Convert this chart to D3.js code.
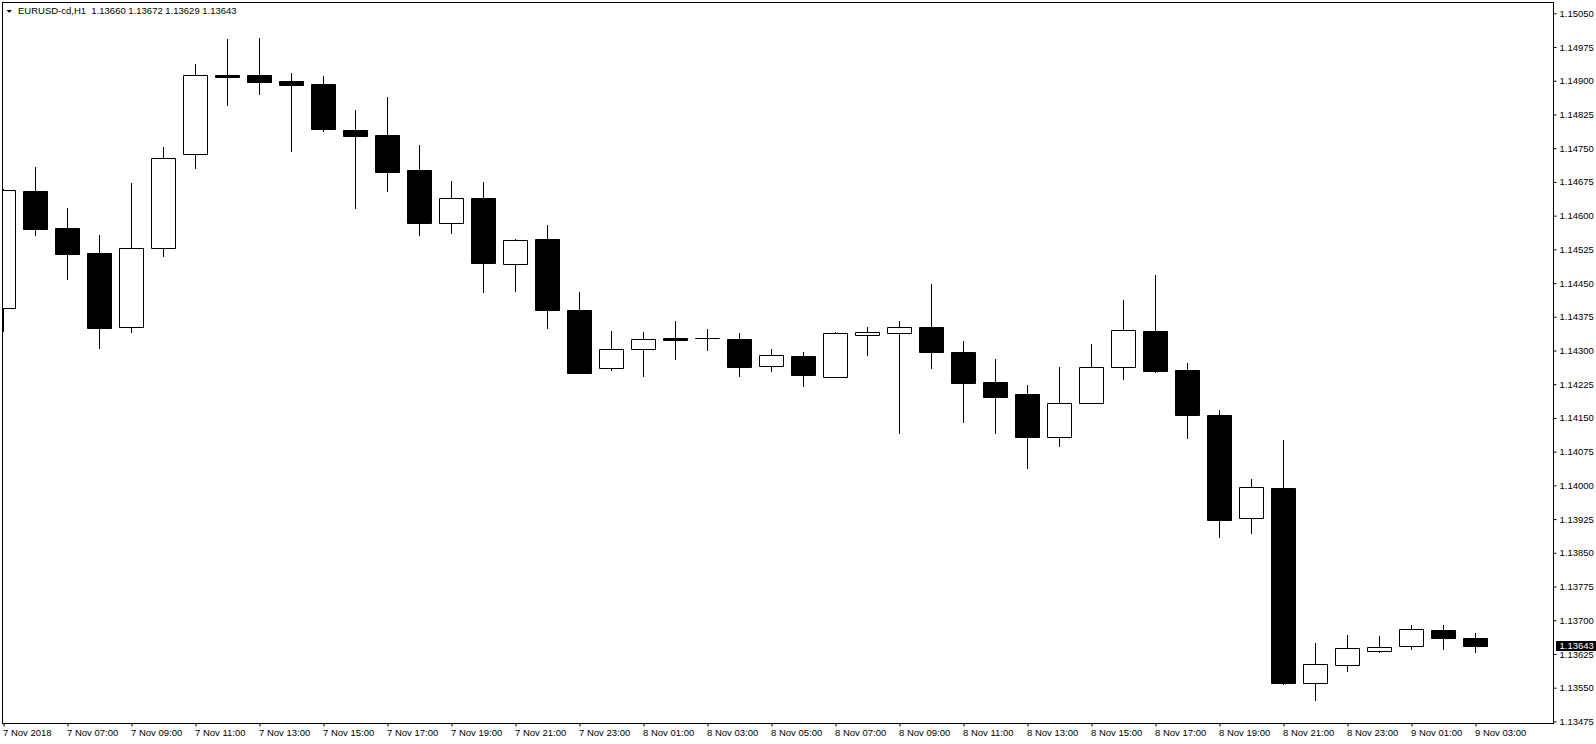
<!DOCTYPE html>
<html><head><meta charset="utf-8">
<script src="https://cdn.jsdelivr.net/npm/d3@7"></script>
<style>html,body{margin:0;padding:0;background:#fff;overflow:hidden}svg{display:block}</style>
</head><body>
<svg id="chart" width="1596" height="744"></svg>
<script>
// ---------- data ----------
const symbol = "EURUSD-cd,H1";
const times = [
  "7 Nov 05:00","7 Nov 06:00","7 Nov 07:00","7 Nov 08:00","7 Nov 09:00","7 Nov 10:00","7 Nov 11:00","7 Nov 12:00",
  "7 Nov 13:00","7 Nov 14:00","7 Nov 15:00","7 Nov 16:00","7 Nov 17:00","7 Nov 18:00","7 Nov 19:00","7 Nov 20:00",
  "7 Nov 21:00","7 Nov 22:00","7 Nov 23:00","8 Nov 00:00","8 Nov 01:00","8 Nov 02:00","8 Nov 03:00","8 Nov 04:00",
  "8 Nov 05:00","8 Nov 06:00","8 Nov 07:00","8 Nov 08:00","8 Nov 09:00","8 Nov 10:00","8 Nov 11:00","8 Nov 12:00",
  "8 Nov 13:00","8 Nov 14:00","8 Nov 15:00","8 Nov 16:00","8 Nov 17:00","8 Nov 18:00","8 Nov 19:00","8 Nov 20:00",
  "8 Nov 21:00","8 Nov 22:00","8 Nov 23:00","9 Nov 00:00","9 Nov 01:00","9 Nov 02:00","9 Nov 03:00"
];
const open  = [1.14395,1.14655,1.14572,1.14517,1.14352,1.14529,1.14736,1.14913,1.14913,1.14900,1.14893,1.14791,
               1.14779,1.14701,1.14583,1.14639,1.14493,1.14547,1.14391,1.14260,1.14303,1.14327,1.14327,1.14326,
               1.14266,1.14288,1.14242,1.14335,1.14340,1.14352,1.14297,1.14229,1.14203,1.14107,1.14183,1.14263,
               1.14343,1.14257,1.14157,1.13927,1.13994,1.13560,1.13600,1.13631,1.13642,1.13678,1.13660];
const high  = [1.14660,1.14709,1.14617,1.14557,1.14673,1.14753,1.14937,1.14993,1.14995,1.14918,1.14911,1.14835,
               1.14864,1.14756,1.14677,1.14675,1.14548,1.14579,1.14430,1.14343,1.14341,1.14366,1.14348,1.14339,
               1.14303,1.14297,1.14342,1.14352,1.14366,1.14448,1.14321,1.14281,1.14223,1.14263,1.14314,1.14412,
               1.14468,1.14272,1.14167,1.14014,1.14101,1.13649,1.13667,1.13665,1.13689,1.13689,1.13672];
const low   = [1.14343,1.14557,1.14460,1.14306,1.14342,1.14511,1.14707,1.14846,1.14870,1.14744,1.14789,1.14618,
               1.14655,1.14557,1.14562,1.14429,1.14433,1.14351,1.14249,1.14257,1.14244,1.14280,1.14300,1.14244,
               1.14255,1.14222,1.14241,1.14290,1.14117,1.14260,1.14142,1.14117,1.14039,1.14088,1.14183,1.14237,
               1.14253,1.14106,1.13886,1.13895,1.13559,1.13523,1.13586,1.13630,1.13635,1.13635,1.13629];
const close = [1.14656,1.14570,1.14515,1.14351,1.14527,1.14728,1.14912,1.14909,1.14898,1.14891,1.14792,1.14778,
               1.14698,1.14584,1.14639,1.14495,1.14546,1.14389,1.14251,1.14303,1.14325,1.14324,1.14327,1.14264,
               1.14289,1.14246,1.14339,1.14341,1.14352,1.14297,1.14228,1.14197,1.14108,1.14183,1.14263,1.14345,
               1.14255,1.14157,1.13924,1.13996,1.13561,1.13602,1.13638,1.13640,1.13680,1.13660,1.13643];
const priceTicks = [1.13475,1.13550,1.13625,1.13700,1.13775,1.13850,1.13925,1.14000,1.14075,1.14150,1.14225,
                    1.14300,1.14375,1.14450,1.14525,1.14600,1.14675,1.14750,1.14825,1.14900,1.14975,1.15050];
const timeTicks = ["7 Nov 05:00","7 Nov 07:00","7 Nov 09:00","7 Nov 11:00","7 Nov 13:00","7 Nov 15:00","7 Nov 17:00",
                   "7 Nov 19:00","7 Nov 21:00","7 Nov 23:00","8 Nov 01:00","8 Nov 03:00","8 Nov 05:00","8 Nov 07:00",
                   "8 Nov 09:00","8 Nov 11:00","8 Nov 13:00","8 Nov 15:00","8 Nov 17:00","8 Nov 19:00","8 Nov 21:00",
                   "8 Nov 23:00","9 Nov 01:00","9 Nov 03:00"];
const timeTickLabels = ["7 Nov 2018","7 Nov 07:00","7 Nov 09:00","7 Nov 11:00","7 Nov 13:00","7 Nov 15:00","7 Nov 17:00",
                   "7 Nov 19:00","7 Nov 21:00","7 Nov 23:00","8 Nov 01:00","8 Nov 03:00","8 Nov 05:00","8 Nov 07:00",
                   "8 Nov 09:00","8 Nov 11:00","8 Nov 13:00","8 Nov 15:00","8 Nov 17:00","8 Nov 19:00","8 Nov 21:00",
                   "8 Nov 23:00","9 Nov 01:00","9 Nov 03:00"];
const lastBar = {open: 1.13660, high: 1.13672, low: 1.13629, close: 1.13643};

// ---------- layout ----------
const FONT = "'Liberation Sans', Arial, sans-serif";
const FS = 9.5;
const frame = {l: 2.5, t: 2.5, r: 1553.5, b: 723.5};
const svg = d3.select("#chart");
svg.append("rect").attr("width", 1596).attr("height", 744).attr("fill", "#fff");

const x = d3.scalePoint().domain(times).range([3.5, 1475.5]);
const y = d3.scaleLinear().domain([1.13475, 1.15050]).range([721.4, 13.3]);
const sy = v => Math.round(y(v)) + 0.5;

svg.append("clipPath").attr("id", "plotclip").append("rect")
  .attr("x", 3).attr("y", 3).attr("width", frame.r - 3).attr("height", frame.b - 3);

const bars = times.map((t, i) => ({t, o: open[i], h: high[i], l: low[i], c: close[i]}));
const plot = svg.append("g").attr("clip-path", "url(#plotclip)");
const half = 12;

plot.selectAll("line.wick").data(bars).join("line").attr("class", "wick")
  .attr("x1", d => x(d.t)).attr("x2", d => x(d.t))
  .attr("y1", d => Math.round(y(d.h))).attr("y2", d => Math.round(y(d.l)) + 1)
  .attr("stroke", "#000").attr("stroke-width", 1).attr("shape-rendering", "crispEdges");

plot.selectAll("path.body").data(bars).join("path").attr("class", "body")
  .attr("d", d => {
    const cx = x(d.t), y0 = sy(Math.max(d.o, d.c)), y1 = sy(Math.min(d.o, d.c));
    return `M${cx - half},${y0}H${cx + half}V${y1}H${cx - half}Z`;
  })
  .attr("fill", d => d.c < d.o ? "#000" : "#fff")
  .attr("stroke", "#000").attr("stroke-width", 1);

// frame
svg.append("rect").attr("x", frame.l).attr("y", frame.t)
  .attr("width", frame.r - frame.l).attr("height", frame.b - frame.t)
  .attr("fill", "none").attr("stroke", "#000").attr("stroke-width", 1);

// price axis
const ya = svg.append("g").attr("transform", `translate(${frame.r},0)`)
  .call(d3.axisRight(y).tickValues(priceTicks).tickFormat(d3.format(".5f")).tickSize(3).tickPadding(3));
ya.select(".domain").remove();
ya.attr("font-family", null).attr("font-size", null);
ya.selectAll("text").attr("font-family", FONT).attr("font-size", FS).attr("fill", "#000");
ya.selectAll("line").attr("stroke", "#000");

// time axis
const xa = svg.append("g").attr("transform", `translate(0,${frame.b})`)
  .call(d3.axisBottom(x).tickValues(timeTicks).tickFormat((d, i) => timeTickLabels[i]).tickSize(3).tickPadding(3));
xa.select(".domain").remove();
xa.selectAll("text").attr("font-family", FONT).attr("font-size", FS).attr("fill", "#000")
  .attr("text-anchor", "start").attr("x", -1);
xa.selectAll("line").attr("stroke", "#000");

// current price marker
const cy = y(lastBar.close);
svg.append("rect").attr("x", 1556).attr("y", Math.round(cy) - 5).attr("width", 40).attr("height", 10).attr("fill", "#000");
svg.append("text").attr("x", 1559.5).attr("y", cy).attr("dy", "0.35em")
  .attr("font-family", FONT).attr("font-size", FS).attr("fill", "#fff")
  .text(d3.format(".5f")(lastBar.close));

// title
svg.append("path").attr("d", "M6.5,10H12L9.25,12.8Z").attr("fill", "#000");
svg.append("text").attr("x", 18).attr("y", 11).attr("dy", "0.35em")
  .attr("font-family", FONT).attr("font-size", FS).attr("fill", "#000")
  .style("white-space", "pre")
  .text(`${symbol}  ${d3.format(".5f")(lastBar.open)} ${d3.format(".5f")(lastBar.high)} ${d3.format(".5f")(lastBar.low)} ${d3.format(".5f")(lastBar.close)}`);
</script>
</body></html>
